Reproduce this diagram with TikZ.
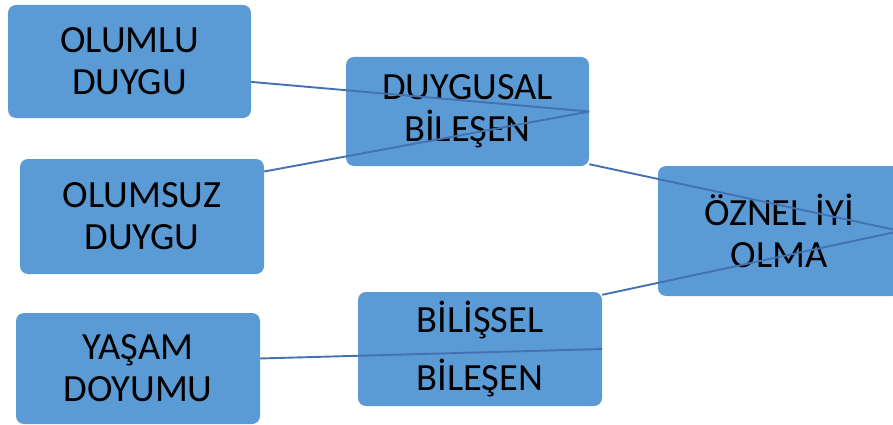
\documentclass[tikz,border=0pt]{standalone}
\usepackage{fontspec}
\setmainfont{Carlito}
\usetikzlibrary{calc}
\definecolor{boxblue}{RGB}{91,155,213}
\definecolor{linkblue}{RGB}{68,114,176}

\begin{document}
\begin{tikzpicture}[x=1pt,y=-1pt,
  box/.style={fill=boxblue, rounded corners=8pt, inner sep=0pt, align=center,
    text=black, font=\fontsize{38.5}{42}\selectfont},
  link/.style={draw=linkblue, line width=1.9pt}]
\useasboundingbox (0,0) rectangle (893,425);

% component boxes
\node[box, minimum width=243pt, minimum height=113pt] (olumlu)   at (129.5,61.5) {OLUMLU\\DUYGU};
\node[box, minimum width=244pt, minimum height=115pt] (olumsuz)  at (142,216.5)  {OLUMSUZ\\DUYGU};
\node[box, minimum width=244pt, minimum height=111pt] (yasam)    at (138,368.5)  {YAŞAM\\DOYUMU};
\node[box, minimum width=243pt, minimum height=109pt] (duygusal) at (467.5,111.5) {DUYGUSAL\\BİLEŞEN};
\node[box, minimum width=244pt, minimum height=114pt] (bilissel) at (480,349)    {BİLİŞSEL\\[16pt]BİLEŞEN};
\node[box, minimum width=242pt, minimum height=130pt] (oznel)    at (779,231)    {ÖZNEL İYİ\\OLMA};

% connectors
\draw[link] ($(olumlu.north east)!0.68!(olumlu.south east)$) -- (duygusal.east);
\draw[link] ($(olumsuz.north east)!0.11!(olumsuz.south east)$) -- (duygusal.east);
\draw[link] ($(duygusal.south east)+(0,-2)$) -- (oznel.east);
\draw[link] ($(bilissel.north east)+(0,3)$) -- (oznel.east);
\draw[link] ($(yasam.north east)!0.41!(yasam.south east)$) -- (bilissel.east);
\end{tikzpicture}
\end{document}
